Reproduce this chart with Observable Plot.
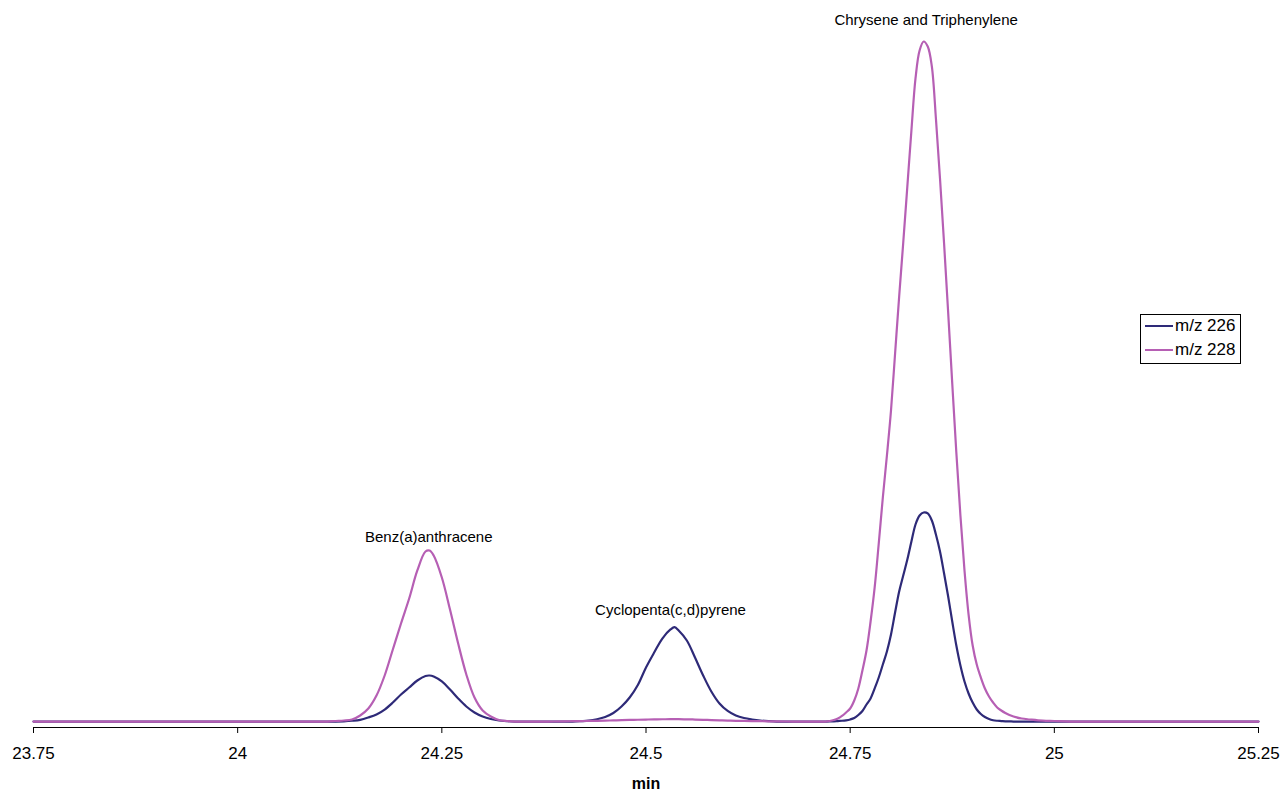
<!DOCTYPE html>
<html>
<head>
<meta charset="utf-8">
<script src="https://cdn.jsdelivr.net/npm/d3@7"></script>
<script src="https://cdn.jsdelivr.net/npm/@observablehq/plot@0.6"></script>
<style>
  html, body { margin: 0; padding: 0; background: #fff; }
  #wrap { position: relative; width: 1284px; height: 794px; font-family: "Liberation Sans", Arial, sans-serif; }
  #legend { position: absolute; left: 1140px; top: 314px; width: 99px; height: 48px; border: 1px solid #000; background: #fff; font-size: 17px; color: #000; }
  #legend .row { position: absolute; left: 4px; height: 20px; display: flex; align-items: center; }
  #legend .sw { width: 28px; height: 0; border-top: 2.5px solid; margin-right: 2px; }
</style>
</head>
<body>
<div id="wrap"><div id="chart"></div><div id="legend"></div></div>
<script>
// Retention time (min)
const time = [
  23.75, 23.80, 23.85, 23.90, 23.95, 24.00, 24.05, 24.10, 24.11, 24.12,
  24.13, 24.14, 24.15, 24.16, 24.17, 24.18, 24.19, 24.20, 24.21, 24.22,
  24.23, 24.235, 24.24, 24.25, 24.26, 24.27, 24.28, 24.29, 24.30, 24.31,
  24.32, 24.33, 24.34, 24.36, 24.38, 24.40, 24.41, 24.42, 24.43, 24.44,
  24.45, 24.46, 24.47, 24.48, 24.49, 24.50, 24.51, 24.52, 24.53, 24.535,
  24.54, 24.55, 24.56, 24.57, 24.58, 24.59, 24.60, 24.61, 24.62, 24.63,
  24.64, 24.65, 24.66, 24.68, 24.70, 24.71, 24.72, 24.725, 24.73, 24.735,
  24.74, 24.745, 24.75, 24.755, 24.76, 24.765, 24.77, 24.775, 24.78, 24.785,
  24.79, 24.795, 24.80, 24.805, 24.81, 24.815, 24.82, 24.825, 24.83, 24.835,
  24.84, 24.845, 24.85, 24.855, 24.86, 24.865, 24.87, 24.875, 24.88, 24.885,
  24.89, 24.895, 24.90, 24.905, 24.91, 24.915, 24.92, 24.925, 24.93, 24.935,
  24.94, 24.945, 24.95, 24.96, 24.97, 24.98, 25.00, 25.02, 25.05, 25.10,
  25.15, 25.20, 25.25
];
// Relative abundance, m/z 226
const mz226 = [
  0.87, 0.87, 0.87, 0.87, 0.87, 0.87, 0.87, 0.87, 0.87, 0.87,
  0.90, 0.98, 1.12, 1.46, 1.90, 2.62, 3.64, 4.81, 5.83, 6.85,
  7.51, 7.58, 7.43, 6.71, 5.54, 4.23, 3.06, 2.19, 1.60, 1.24,
  1.02, 0.92, 0.87, 0.87, 0.87, 0.87, 0.87, 0.92, 0.99, 1.20,
  1.53, 2.11, 3.06, 4.37, 6.20, 8.75, 10.93, 12.97, 14.29, 14.62,
  14.14, 12.68, 10.20, 7.58, 5.25, 3.50, 2.41, 1.75, 1.38, 1.17,
  1.02, 0.93, 0.87, 0.87, 0.87, 0.87, 0.87, 0.88, 0.90, 0.94,
  0.98, 1.05, 1.17, 1.38, 1.82, 2.41, 3.35, 4.23, 5.69, 7.29,
  9.18, 11.08, 13.56, 16.76, 19.83, 22.16, 24.49, 27.11, 29.59, 30.90,
  31.34, 31.20, 30.17, 28.13, 25.66, 22.45, 19.10, 15.45, 11.95, 9.04,
  6.71, 4.96, 3.64, 2.62, 1.97, 1.53, 1.24, 1.06, 0.98, 0.94,
  0.90, 0.89, 0.87, 0.87, 0.87, 0.87, 0.87, 0.87, 0.87, 0.87,
  0.87, 0.87, 0.87
];
// Relative abundance, m/z 228
const mz228 = [
  0.87, 0.87, 0.87, 0.87, 0.87, 0.87, 0.87, 0.87, 0.87, 0.95,
  1.02, 1.17, 1.75, 2.77, 4.66, 7.58, 11.37, 15.16, 18.80, 22.89,
  25.66, 25.80, 25.07, 21.87, 17.20, 12.24, 7.73, 4.37, 2.48, 1.60,
  1.09, 0.95, 0.87, 0.87, 0.87, 0.90, 0.92, 0.94, 0.96, 0.98,
  1.00, 1.04, 1.07, 1.10, 1.13, 1.16, 1.18, 1.20, 1.21, 1.21,
  1.21, 1.19, 1.16, 1.12, 1.08, 1.04, 1.01, 0.98, 0.96, 0.94,
  0.92, 0.90, 0.88, 0.87, 0.87, 0.87, 0.87, 0.95, 1.09, 1.31,
  1.68, 2.19, 2.77, 3.94, 5.69, 8.31, 11.22, 15.45, 20.41, 26.82,
  33.53, 39.65, 46.21, 54.52, 62.83, 70.70, 78.86, 87.03, 94.61, 98.69,
  100.0, 99.27, 96.36, 88.78, 80.03, 70.55, 60.50, 50.15, 40.09, 30.90,
  22.89, 16.47, 11.95, 9.18, 7.29, 5.69, 4.52, 3.64, 2.92, 2.48,
  2.11, 1.82, 1.60, 1.31, 1.17, 1.05, 0.95, 0.87, 0.87, 0.87,
  0.87, 0.87, 0.87
];
const seriesNames = ["m/z 226", "m/z 228"];
const seriesColors = ["#2e2a78", "#b65fb4"];
const xTicks = [23.75, 24, 24.25, 24.5, 24.75, 25, 25.25];
// Peak annotations (time, abundance at label centre, text)
const peakLabelTimes = [24.234, 24.530, 24.843];
const peakLabelLevels = [27.8, 17.1, 103.1];
const peakLabelTexts = ["Benz(a)anthracene", "Cyclopenta(c,d)pyrene", "Chrysene and Triphenylene"];

const d226 = time.map((t, i) => ({t, v: mz226[i]}));
const d228 = time.map((t, i) => ({t, v: mz228[i]}));
const labels = peakLabelTexts.map((text, i) => ({t: peakLabelTimes[i], v: peakLabelLevels[i], text}));

const chart = Plot.plot({
  width: 1284,
  height: 794,
  marginLeft: 33,
  marginRight: 26,
  marginTop: 41,
  marginBottom: 67,
  style: {fontFamily: "'Liberation Sans', Arial, sans-serif", color: "#000", background: "#fff"},
  x: {domain: [23.75, 25.25], axis: null},
  y: {domain: [0, 100], axis: null},
  marks: [
    Plot.ruleY([0], {stroke: "#000", strokeWidth: 1}),
    Plot.axisX({ticks: xTicks, tickSize: 6, tickPadding: 13, fontSize: 17, tickFormat: d => String(d), label: null, stroke: "#000"}),
    Plot.line(d226, {x: "t", y: "v", stroke: seriesColors[0], strokeWidth: 2.2, curve: "catmull-rom"}),
    Plot.line(d228, {x: "t", y: "v", stroke: seriesColors[1], strokeWidth: 2.2, curve: "catmull-rom"}),
    Plot.text(labels, {x: "t", y: "v", text: "text", fontSize: 15, fill: "#000"}),
    Plot.text(["min"], {frameAnchor: "bottom", dy: 61, fontSize: 16, fontWeight: "bold", fill: "#000"})
  ]
});
document.getElementById("chart").appendChild(chart);

const legend = document.getElementById("legend");
seriesNames.forEach((name, i) => {
  const row = document.createElement("div");
  row.className = "row";
  row.style.top = (i === 0 ? 1 : 25) + "px";
  const sw = document.createElement("span");
  sw.className = "sw";
  sw.style.borderTopColor = seriesColors[i];
  const tx = document.createElement("span");
  tx.textContent = name;
  row.appendChild(sw);
  row.appendChild(tx);
  legend.appendChild(row);
});
</script>
</body>
</html>
